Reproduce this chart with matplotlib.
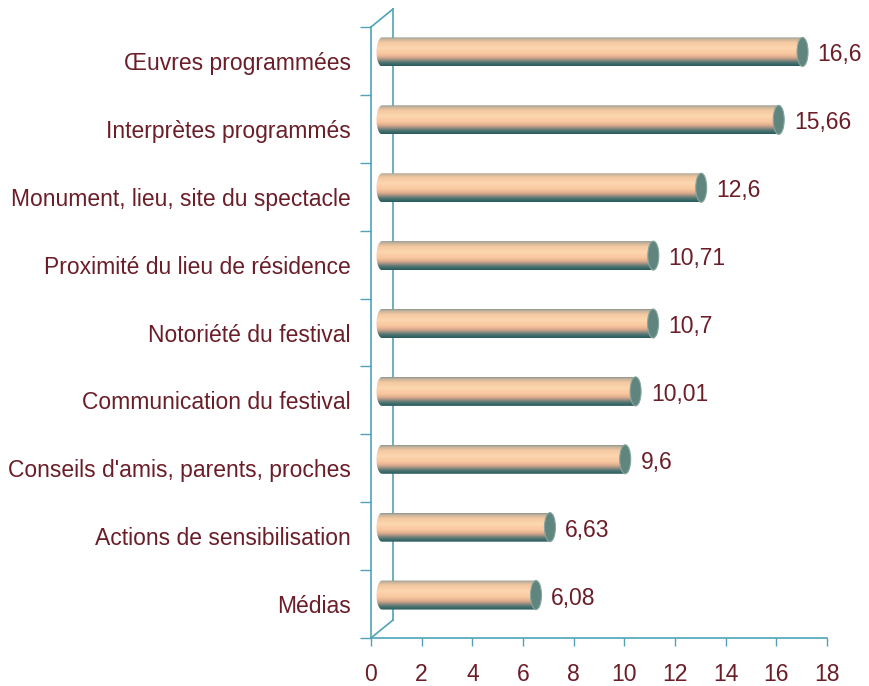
import matplotlib
matplotlib.use("Agg")
import matplotlib.pyplot as plt
import numpy as np
from matplotlib.colors import LinearSegmentedColormap
from matplotlib.patches import Ellipse, Polygon

plt.rcParams["font.family"] = ["Liberation Sans", "DejaVu Sans"]

categories = [
    "Œuvres programmées",
    "Interprètes programmés",
    "Monument, lieu, site du spectacle",
    "Proximité du lieu de résidence",
    "Notoriété du festival",
    "Communication du festival",
    "Conseils d'amis, parents, proches",
    "Actions de sensibilisation",
    "Médias",
]
values = [16.6, 15.66, 12.6, 10.71, 10.7, 10.01, 9.6, 6.63, 6.08]
x_ticks = [0, 2, 4, 6, 8, 10, 12, 14, 16, 18]

TEXT = "#6b1e28"
AXIS = "#4ea3b8"
CAP = "#5f857e"

W, H = 870, 686
fig = plt.figure(figsize=(W / 100, H / 100), dpi=100)
ax = fig.add_axes([371 / W, 48 / H, 456 / W, 611 / H])

n = len(categories)
ax.set_xlim(0, 18)
ax.set_ylim(n - 0.5, -0.5)

px_x = 456 / 18.0
px_y = 611 / float(n)
# depth offset of the fake 3d wall (pixels)
depth_x, depth_y = 22, 18
dx = (depth_x / 2) / px_x
dy = (depth_y / 2) / px_y
bar_h = 29 / px_y
rx = 5.5 / px_x

grad = LinearSegmentedColormap.from_list("cyl", [
    (0.00, "#8a938a"),
    (0.06, "#c2b29c"),
    (0.18, "#f4c8a0"),
    (0.38, "#fdd6af"),
    (0.58, "#f8c69e"),
    (0.70, "#dcac8e"),
    (0.79, "#9a8e80"),
    (0.87, "#527774"),
    (1.00, "#255a5b"),
])
g = np.linspace(0, 1, 256).reshape(-1, 1)

# back wall lines
ax.plot([dx * 2, dx * 2], [-0.5 - dy * 2, n - 0.5 - dy * 2], color=AXIS, lw=1.2,
        clip_on=False, zorder=1)
ax.plot([0, dx * 2], [-0.5, -0.5 - dy * 2], color=AXIS, lw=1.2, clip_on=False, zorder=1)
ax.plot([0, dx * 2], [n - 0.5, n - 0.5 - dy * 2], color=AXIS, lw=1.2, clip_on=False, zorder=1)

for i, v in enumerate(values):
    yc = i - dy
    x0 = dx
    x1 = v + dx
    top = yc - bar_h / 2
    bot = yc + bar_h / 2
    t = np.linspace(-np.pi / 2, np.pi / 2, 40)
    left = np.column_stack([x0 - rx * np.cos(t), yc + bar_h / 2 * np.sin(t)])
    verts = np.vstack([left, [[x1, bot], [x1, top]]])
    clip = Polygon(verts, closed=True, transform=ax.transData, facecolor="none",
                   edgecolor="none")
    ax.add_patch(clip)
    im = ax.imshow(g, cmap=grad, aspect="auto", extent=[x0 - rx, x1, bot, top],
                   origin="upper", zorder=3, interpolation="bilinear")
    im.set_clip_path(clip)
    cap = Ellipse((x1, yc), 2 * rx, bar_h, facecolor=CAP, edgecolor="#86a69e",
                  lw=0.8, zorder=4)
    ax.add_patch(cap)
    ax.text(x1 + 0.6, yc + 3 / px_y, str(v).replace(".", ","), ha="left", va="center",
            fontsize=16.5, color=TEXT, zorder=5)

ax.set_xlim(0, 18)
ax.set_ylim(n - 0.5, -0.5)

for s in ["top", "right"]:
    ax.spines[s].set_visible(False)
for s in ["left", "bottom"]:
    ax.spines[s].set_color(AXIS)
    ax.spines[s].set_linewidth(1.2)

ax.set_xticks(x_ticks)
ax.set_xticklabels([str(t) for t in x_ticks])
ax.tick_params(axis="x", colors=AXIS, labelcolor=TEXT, length=6, width=1,
               labelsize=16.5, pad=12)
ax.set_yticks(range(n))
ax.set_yticklabels(categories)
ax.tick_params(axis="y", which="major", length=0, pad=14.5, labelcolor=TEXT,
               labelsize=16.5)
ax.set_yticks(np.arange(-0.5, n, 1), minor=True)
ax.tick_params(axis="y", which="minor", length=8, width=1, colors=AXIS)

ax.set_facecolor("none")
fig.savefig("out.png", dpi=100)
